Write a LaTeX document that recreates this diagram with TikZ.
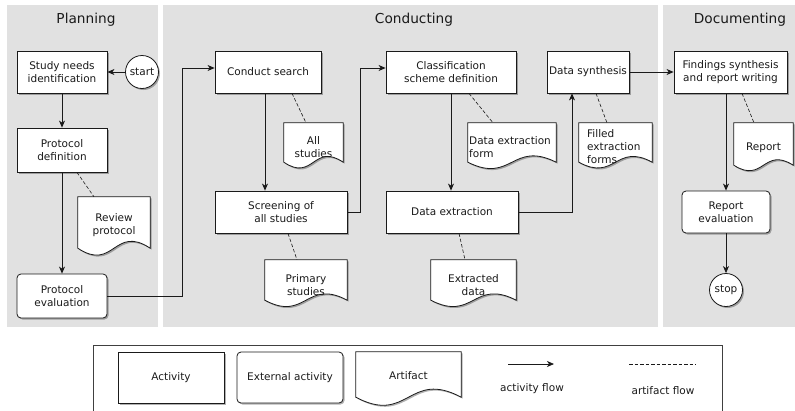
\documentclass[tikz,border=0pt]{standalone}
\usepackage{fontspec}
\setmainfont{DejaVu Sans}
\usetikzlibrary{arrows.meta,calc,shadows}
\definecolor{panel}{HTML}{E1E1E1}
\definecolor{ink}{HTML}{1A1A1A}
\tikzset{
  txt/.style={font=\fontsize{10.5}{13}\selectfont, text=ink, align=center, inner sep=0pt},
  paneltitle/.style={font=\fontsize{13.7}{16}\selectfont, text=ink, inner sep=0pt},
  shad/.style={drop shadow={shadow xshift=1.5pt, shadow yshift=-1.5pt, opacity=0.3, fill=black}},
  activity/.style={txt, draw=ink, line width=0.8pt, fill=white, shad, minimum height=42pt},
  extactivity/.style={activity, rounded corners=4pt},
  terminal/.style={txt, circle, draw=ink, line width=0.8pt, fill=white, shad, minimum size=33pt},
  artbox/.style={inner sep=0pt, draw=none},
  flow/.style={draw=ink, line width=0.8pt, -{Stealth[length=7pt, width=6pt, inset=2pt]}},
  artflow/.style={draw=ink, line width=0.6pt, dash pattern=on 3.5pt off 2pt},
}
\newcommand{\docoutline}[2]{%
  \fill[black, opacity=0.3, transform canvas={shift={(1.5pt,-1.5pt)}}]
    (#1.north west) -- (#1.north east) -- (#1.south east)
    .. controls ($(#1.south)+(0pt,#2pt)$) and ($(#1.south)+(0pt,-#2pt)$) .. (#1.south west) -- cycle;
  \draw[line width=0.8pt, draw=ink, fill=white]
    (#1.north west) -- (#1.north east) -- (#1.south east)
    .. controls ($(#1.south)+(0pt,#2pt)$) and ($(#1.south)+(0pt,-#2pt)$) .. (#1.south west) -- cycle;
}
\begin{document}
\begin{tikzpicture}[x=1pt, y=-1pt]
\useasboundingbox (0,0) rectangle (795,410);
% panels
\fill[panel] (7,5) rectangle (158,327);
\fill[panel] (163,5) rectangle (658,327);
\fill[panel] (663,5) rectangle (795,327);
\node[paneltitle] (tplan) at (86,20) {Planning};
\node[paneltitle] (tcond) at (414,20) {Conducting};
\node[paneltitle] (tdoc) at (740,20) {Documenting};

% Planning
\node[activity, minimum width=90pt] (sn) at (62,72) {Study needs\\identification};
\node[terminal] (start) at (142,72) {start};
\node[activity, minimum width=90pt, minimum height=44pt] (pd) at (62,150) {Protocol\\definition};
\node[artbox, minimum width=72pt, minimum height=51pt] (rp) at (114,222.5) {};
\docoutline{rp}{24}
\node[txt] (rpt) at (114,225) {Review\\protocol};
\node[extactivity, minimum width=90pt, minimum height=44pt] (pe) at (62,296) {Protocol\\evaluation};

% Conducting
\node[activity, minimum width=106pt] (cs) at (268,72) {Conduct search};
\node[artbox, minimum width=59pt, minimum height=39pt] (as) at (313.5,142.5) {};
\docoutline{as}{20}
\node[txt] (ast) at (313.5,147.5) {All\\studies};
\node[activity, minimum width=132pt] (scr) at (281,212) {Screening of\\all studies};
\node[artbox, minimum width=82pt, minimum height=40pt] (ps) at (306,280) {};
\docoutline{ps}{22}
\node[txt] (pst) at (306,285) {Primary\\studies};
\node[activity, minimum width=130pt] (csd) at (451,72) {Classification\\scheme definition};
\node[artbox, minimum width=88pt, minimum height=39pt] (def) at (512,142.5) {};
\docoutline{def}{22}
\node[txt, align=left, anchor=west] (deft) at (469,147.5) {Data extraction\\form};
\node[activity, minimum width=132pt] (de) at (452,212) {Data extraction};
\node[artbox, minimum width=85pt, minimum height=40pt] (ed) at (473.5,280) {};
\docoutline{ed}{22}
\node[txt] (edt) at (473.5,285) {Extracted\\data};
\node[activity, minimum width=82pt] (ds) at (588,72) {Data synthesis};
\node[artbox, minimum width=73pt, minimum height=39pt] (fef) at (615.5,142.5) {};
\docoutline{fef}{20}
\node[txt, align=left, anchor=west] (feft) at (587,146.5) {Filled\\extraction\\forms};

% Documenting
\node[activity, minimum width=113pt] (fs) at (730.5,72) {Findings synthesis\\and report writing};
\node[artbox, minimum width=59pt, minimum height=42pt] (rep) at (763.5,144) {};
\docoutline{rep}{19}
\node[txt] (rept) at (763.5,148) {Report};
\node[extactivity, minimum width=88pt] (re) at (726,212) {Report\\evaluation};
\node[terminal] (stop) at (726,290) {stop};

% activity flow
\draw[flow] (start) -- (sn);
\draw[flow] (sn) -- (pd);
\draw[flow] (pd) -- (pe);
\draw[flow] (pe.east) -- ++(75pt,0pt) |- ([yshift=4pt]cs.west);
\draw[flow] ([xshift=-3pt]cs.south) -- ([xshift=-3pt]cs.south |- scr.north);
\draw[flow] (scr.east) -- ++(13pt,0pt) |- ([yshift=4pt]csd.west);
\draw[flow] (csd.south) -- (csd.south |- de.north);
\draw[flow] (de.east) -| ([xshift=-16pt]ds.south);
\draw[flow] (ds.east) -- (fs.west);
\draw[flow] (re.north |- fs.south) -- (re.north);
\draw[flow] (re) -- (stop);

% artifact flow
\draw[artflow] ([xshift=15pt]pd.south) -- ([xshift=-20pt]rp.north);
\draw[artflow] ([xshift=24pt]cs.south) -- ([xshift=-7.5pt]as.north);
\draw[artflow] ([xshift=7pt]scr.south) -- ([xshift=-9pt]ps.north);
\draw[artflow] ([xshift=18pt]csd.south) -- ([xshift=-19pt]def.north);
\draw[artflow] ([xshift=7pt]de.south) -- ([xshift=-8.5pt]ed.north);
\draw[artflow] ([xshift=8pt]ds.south) -- ([xshift=-8.5pt]fef.north);
\draw[artflow] ([xshift=11.5pt]fs.south) -- ([xshift=-9.5pt]rep.north);

% legend
\draw[draw=black!75, line width=0.8pt] (93,411) -- (93,345) -- (722,345) -- (722,411);
\node[activity, minimum width=106pt, minimum height=51pt] (lact) at (171,377.5) {Activity};
\node[extactivity, minimum width=106pt, minimum height=51pt] (lext) at (290,377.5) {External activity};
\node[artbox, minimum width=105pt, minimum height=45pt] (lart) at (408.5,374.5) {};
\docoutline{lart}{28}
\node[txt] (lartt) at (408.5,376) {Artifact};
\coordinate (laf1) at (508,364);
\coordinate (laf2) at (554,364);
\draw[flow] (laf1) -- (laf2);
\node[txt] (laft) at (532,389) {activity flow};
\coordinate (lrf1) at (629,364);
\coordinate (lrf2) at (696,364);
\draw[artflow] (lrf1) -- (lrf2);
\node[txt] (lrft) at (663,391) {artifact flow};
\end{tikzpicture}
\end{document}
